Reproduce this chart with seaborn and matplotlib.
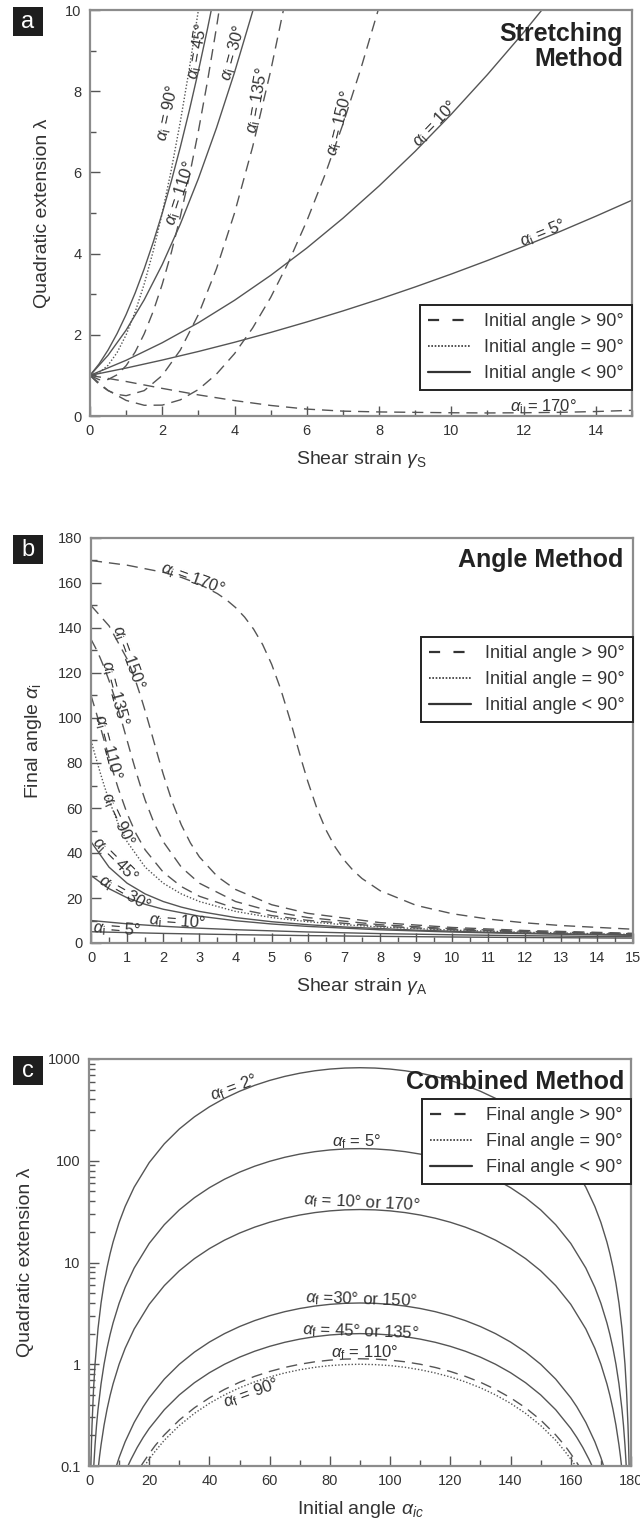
import matplotlib
matplotlib.use('Agg')
import matplotlib.pyplot as plt
import seaborn as sns
from matplotlib.lines import Line2D
from matplotlib.patches import Rectangle
from matplotlib.ticker import MultipleLocator, LogLocator, NullFormatter, FixedLocator, FixedFormatter

# ---------------- panel a : stretching method (lambda vs gamma_S) ----------------
a_g5 = [0, 1, 2, 3, 4, 5, 6, 7, 8, 9, 10, 11, 12, 13, 14, 15]
a_l5 = [1, 1.181, 1.378, 1.589, 1.816, 2.058, 2.316, 2.588, 2.875, 3.179,
        3.497, 3.830, 4.178, 4.541, 4.921, 5.315]
a_g10 = [0, 1, 2, 3, 4, 5, 6, 7, 8, 9, 10, 11, 12, 13]
a_l10 = [1, 1.372, 1.805, 2.297, 2.850, 3.464, 4.137, 4.871, 5.666, 6.520,
         7.435, 8.410, 9.446, 10.541]
a_g30 = [0, 0.5, 1, 1.5, 2, 2.5, 3, 3.5, 4, 4.5, 5]
a_l30 = [1, 1.496, 2.116, 2.862, 3.732, 4.728, 5.848, 7.094, 8.464, 9.960, 11.58]
a_g45 = [0, 0.25, 0.5, 0.75, 1, 1.25, 1.5, 1.75, 2, 2.25, 2.5, 2.75, 3, 3.25, 3.5]
a_l45 = [1, 1.281, 1.625, 2.031, 2.5, 3.031, 3.625, 4.281, 5, 5.781, 6.625,
         7.531, 8.5, 9.531, 10.625]
a_g90 = [0, 0.25, 0.5, 0.75, 1, 1.25, 1.5, 1.75, 2, 2.25, 2.5, 2.75, 3, 3.2]
a_l90 = [1, 1.063, 1.25, 1.563, 2, 2.563, 3.25, 4.063, 5, 6.063, 7.25, 8.563, 10, 11.24]
a_g110 = [0, 0.25, 0.5, 0.75, 1, 1.25, 1.5, 1.75, 2, 2.25, 2.5, 2.75, 3, 3.25, 3.5, 3.75]
a_l110 = [1, 0.895, 0.899, 1.015, 1.240, 1.576, 2.023, 2.579, 3.246, 4.024,
          4.912, 5.910, 7.019, 8.238, 9.567, 11.006]
a_g135 = [0, 0.25, 0.5, 0.75, 1, 1.5, 2, 2.5, 3, 3.5, 4, 4.5, 5, 5.5]
a_l135 = [1, 0.781, 0.625, 0.531, 0.5, 0.625, 1, 1.625, 2.5, 3.625, 5, 6.625, 8.5, 10.625]
a_g150 = [0, 0.5, 1, 1.5, 2, 2.5, 3, 3.5, 4, 4.5, 5, 5.5, 6, 6.5, 7, 7.5, 8]
a_l150 = [1, 0.630, 0.384, 0.264, 0.268, 0.398, 0.652, 1.032, 1.536, 2.166,
          2.92, 3.80, 4.804, 5.934, 7.188, 8.568, 10.072]
a_g170 = [0, 1, 2, 3, 4, 5, 6, 7, 8, 9, 10, 11, 12, 13, 14, 15]
a_l170 = [1.0, 0.85, 0.68, 0.52, 0.38, 0.26, 0.17, 0.12, 0.10, 0.09, 0.08,
          0.075, 0.08, 0.09, 0.11, 0.14]

# ---------------- panel b : angle method (final angle vs gamma_A) ----------------
b_g5 = [0, 2, 4, 6, 8, 10, 12, 15]
b_f5 = [5, 4.26, 3.71, 3.28, 2.95, 2.67, 2.44, 2.17]
b_g10 = [0, 1, 2, 3, 4, 6, 8, 10, 12, 15]
b_f10 = [10, 8.53, 7.43, 6.58, 5.90, 4.90, 4.18, 3.65, 3.24, 2.77]
b_g30 = [0, 0.5, 1, 1.5, 2, 3, 4, 5, 6, 8, 10, 12, 15]
b_f30 = [30, 24.13, 20.10, 17.19, 15.0, 11.93, 9.90, 8.45, 7.37, 5.87, 4.87, 4.17, 3.42]
b_g45 = [0, 0.5, 1, 1.5, 2, 2.5, 3, 4, 5, 6, 7, 9, 11, 13, 15]
b_f45 = [45, 33.69, 26.57, 21.80, 18.43, 15.95, 14.04, 11.31, 9.46, 8.13, 7.13,
         5.71, 4.76, 4.09, 3.58]
b_g90 = [0, 0.125, 0.25, 0.375, 0.5, 0.75, 1, 1.5, 2, 2.5, 3, 4, 5, 6, 7, 8, 10, 12, 15]
b_f90 = [90, 82.87, 75.96, 69.44, 63.43, 53.13, 45, 33.69, 26.57, 21.80, 18.43,
         14.04, 11.31, 9.46, 8.13, 7.13, 5.71, 4.76, 3.81]
b_g110 = [0, 0.125, 0.25, 0.375, 0.5, 0.625, 0.75, 1, 1.25, 1.5, 2, 2.5, 3, 4, 5,
          6, 8, 10, 12, 15]
b_f110 = [110, 103.44, 96.5, 89.4, 82.25, 75.37, 68.9, 57.54, 48.46, 41.36,
          31.44, 25.08, 20.77, 15.38, 12.17, 10.06, 7.46, 5.92, 4.91, 3.91]
b_g135 = [0, 0.125, 0.25, 0.375, 0.5, 0.625, 0.75, 0.875, 1, 1.125, 1.25, 1.375,
          1.5, 1.75, 2, 2.5, 3, 4, 5, 6, 8, 10, 12, 15]
b_f135 = [135, 131.19, 126.87, 122.01, 116.57, 110.56, 104.04, 97.13, 90, 82.87,
          75.96, 69.44, 63.43, 53.13, 45, 33.69, 26.57, 18.43, 14.04, 11.31,
          8.13, 6.34, 5.19, 4.09]
b_g150 = [0, 0.5, 1, 1.125, 1.25, 1.375, 1.5, 1.625, 1.75, 1.875, 2, 2.25, 2.5,
          2.75, 3, 3.5, 4, 5, 6, 8, 10, 12, 15]
b_f150 = [150, 140.94, 126.2, 121.26, 115.73, 109.65, 103.06, 96.11, 88.97,
          81.86, 75.0, 62.61, 52.48, 44.49, 38.26, 29.49, 23.79, 17.01, 13.19,
          9.06, 6.90, 5.56, 4.31]
b_g170 = [0, 1, 2, 2.5, 3, 3.5, 3.75, 4, 4.25, 4.5, 4.75, 5, 5.25, 5.5, 5.67,
          5.85, 6, 6.25, 6.5, 6.75, 7, 7.25, 7.5, 8, 9, 10, 11, 12, 13, 15]
b_f170 = [170, 167.92, 164.76, 162.5, 159.47, 155.27, 152.5, 149.11, 144.87,
          139.5, 132.65, 123.86, 112.83, 99.7, 90, 79.85, 71.79, 59.93, 50.34,
          42.83, 36.96, 32.34, 28.67, 23.24, 16.72, 13.01, 10.63, 8.98, 7.77, 6.12]

# ---------------- panel c : combined method (lambda vs initial angle) ----------------
c_x2 = [0.63, 0.8, 1, 1.5, 2, 3, 4, 5, 6, 7, 8, 10, 12, 15, 20, 25, 30, 35, 40,
        45, 50, 55, 60, 65, 70, 75, 80, 85, 90,
        95, 100, 105, 110, 115, 120, 125, 130, 135, 140, 145, 150, 155, 160,
        165, 168, 170, 172, 173, 174, 175, 176, 177, 178, 178.5, 179, 179.2, 179.37]
c_l2 = [0.1, 0.160, 0.250, 0.563, 1.0, 2.249, 3.995, 6.236, 8.970, 12.19, 15.90,
        24.76, 35.49, 55.0, 96.0, 146.6, 205.3, 270.1, 339.2, 410.5, 481.8,
        550.9, 615.8, 674.4, 725.0, 766.0, 796.3, 814.8, 821.0,
        814.8, 796.3, 766.0, 725.0, 674.4, 615.8, 550.9, 481.8, 410.5, 339.2,
        270.1, 205.3, 146.6, 96.0, 55.0, 35.49, 24.76, 15.90, 12.19, 8.970,
        6.236, 3.995, 2.249, 1.0, 0.563, 0.250, 0.160, 0.1]
c_x5 = [1.58, 2, 2.5, 3, 4, 5, 6, 7, 8, 10, 12, 15, 20, 25, 30, 35, 40, 45, 50,
        55, 60, 65, 70, 75, 80, 85, 90,
        95, 100, 105, 110, 115, 120, 125, 130, 135, 140, 145, 150, 155, 160,
        165, 168, 170, 172, 173, 174, 175, 176, 177, 177.5, 178, 178.42]
c_l5 = [0.1, 0.160, 0.251, 0.361, 0.641, 1.0, 1.438, 1.955, 2.550, 3.970, 5.691,
        8.819, 15.40, 23.51, 32.91, 43.31, 54.39, 65.83, 77.25, 88.34, 98.74,
        108.14, 116.25, 122.83, 127.68, 130.65, 131.65,
        130.65, 127.68, 122.83, 116.25, 108.14, 98.74, 88.34, 77.25, 65.83,
        54.39, 43.31, 32.91, 23.51, 15.40, 8.819, 5.691, 3.970, 2.550, 1.955,
        1.438, 1.0, 0.641, 0.361, 0.251, 0.160, 0.1]
c_x10 = [3.15, 3.5, 4, 5, 6, 7, 8, 10, 12, 15, 20, 25, 30, 35, 40, 45, 50, 55,
         60, 65, 70, 75, 80, 85, 90,
         95, 100, 105, 110, 115, 120, 125, 130, 135, 140, 145, 150, 155, 160,
         165, 168, 170, 172, 173, 174, 175, 176, 176.5, 176.85]
c_l10 = [0.1, 0.124, 0.161, 0.252, 0.362, 0.4925, 0.642, 1.0, 1.434, 2.222,
         3.879, 5.923, 8.291, 10.91, 13.70, 16.58, 19.46, 22.25, 24.87, 27.24,
         29.28, 30.94, 32.16, 32.91, 33.16,
         32.91, 32.16, 30.94, 29.28, 27.24, 24.87, 22.25, 19.46, 16.58, 13.70,
         10.91, 8.291, 5.923, 3.879, 2.222, 1.434, 1.0, 0.642, 0.4925, 0.362,
         0.252, 0.161, 0.124, 0.1]
c_x30 = [9.1, 9.5, 10, 12, 15, 18, 20, 25, 30, 35, 40, 45, 50, 55, 60, 65, 70,
         75, 80, 85, 90,
         95, 100, 105, 110, 115, 120, 125, 130, 135, 140, 145, 150, 155, 160,
         162, 165, 168, 170, 170.5, 170.9]
c_l30 = [0.1, 0.109, 0.121, 0.173, 0.268, 0.382, 0.468, 0.714, 1.0, 1.316,
         1.653, 2.0, 2.347, 2.684, 3.0, 3.286, 3.532, 3.732, 3.879, 3.970, 4.0,
         3.970, 3.879, 3.732, 3.532, 3.286, 3.0, 2.684, 2.347, 2.0, 1.653,
         1.316, 1.0, 0.714, 0.468, 0.382, 0.268, 0.173, 0.121, 0.109, 0.1]
c_x45 = [12.92, 13.5, 14, 16, 18, 20, 25, 30, 35, 40, 45, 50, 55, 60, 65, 70,
         75, 80, 85, 90,
         95, 100, 105, 110, 115, 120, 125, 130, 135, 140, 145, 150, 155, 160,
         162, 164, 166, 166.5, 167.08]
c_l45 = [0.1, 0.109, 0.117, 0.152, 0.191, 0.234, 0.357, 0.5, 0.658, 0.826, 1.0,
         1.174, 1.342, 1.5, 1.643, 1.766, 1.866, 1.940, 1.985, 2.0,
         1.985, 1.940, 1.866, 1.766, 1.643, 1.5, 1.342, 1.174, 1.0, 0.826,
         0.658, 0.5, 0.357, 0.234, 0.191, 0.152, 0.117, 0.109, 0.1]
c_x110 = [17.29, 17.6, 18, 20, 22, 25, 30, 35, 40, 45, 50, 55, 60, 65, 70, 75,
          80, 85, 90,
          95, 100, 105, 110, 115, 120, 125, 130, 135, 140, 145, 150, 155, 158,
          160, 162, 162.4, 162.71]
c_l110 = [0.1, 0.1035, 0.108, 0.132, 0.159, 0.202, 0.283, 0.373, 0.468, 0.566,
          0.665, 0.760, 0.849, 0.930, 1.0, 1.057, 1.098, 1.124, 1.132,
          1.124, 1.098, 1.057, 1.0, 0.930, 0.849, 0.760, 0.665, 0.566, 0.468,
          0.373, 0.283, 0.202, 0.159, 0.132, 0.108, 0.1035, 0.1]
c_x90 = [18.44, 18.8, 20, 22, 25, 30, 35, 40, 45, 50, 55, 60, 65, 70, 75, 80,
         85, 90,
         95, 100, 105, 110, 115, 120, 125, 130, 135, 140, 145, 150, 155, 158,
         160, 161.2, 161.56]
c_l90 = [0.1, 0.104, 0.117, 0.140, 0.179, 0.25, 0.329, 0.413, 0.5, 0.587,
         0.671, 0.75, 0.821, 0.883, 0.933, 0.970, 0.992, 1.0,
         0.992, 0.970, 0.933, 0.883, 0.821, 0.75, 0.671, 0.587, 0.5, 0.413,
         0.329, 0.25, 0.179, 0.140, 0.117, 0.104, 0.1]

LINE = '#555555'
TXT = '#333333'
DASH = (0, (8, 5))
DOT = (0, (1, 1.4))

sns.set_theme(style='ticks')
plt.rcParams['font.family'] = ['Liberation Sans', 'DejaVu Sans']
plt.rcParams['mathtext.fontset'] = 'custom'
plt.rcParams['mathtext.rm'] = 'Liberation Sans'
plt.rcParams['mathtext.it'] = 'Liberation Sans:italic'
plt.rcParams['mathtext.bf'] = 'Liberation Sans:bold'

fig = plt.figure(figsize=(6.4, 15.24), dpi=100)
W, H = 640.0, 1524.0


def axes_px(left, top, right, bottom):
    return fig.add_axes([left / W, 1 - bottom / H, (right - left) / W, (bottom - top) / H])


ax_a = axes_px(90, 10, 632, 416)
ax_b = axes_px(91, 538, 633, 943)
ax_c = axes_px(89, 1059, 631, 1466)


def curve(ax, x, y, ls):
    sns.lineplot(x=x, y=y, ax=ax, color=LINE, lw=1.0, linestyle=ls,
                 estimator=None, sort=False, errorbar=None)


def style_axes(ax):
    for s in ax.spines.values():
        s.set_color('#8c8c8c')
        s.set_linewidth(1.6)
    ax.tick_params(which='both', direction='in', color='#555555', width=1,
                   labelcolor=TXT, labelsize=10.5, pad=6)
    ax.tick_params(which='major', length=7)
    ax.tick_params(which='minor', length=4)


def lab(ax, x, y, s, rot, size=12):
    ax.text(x, y, s, rotation=rot, ha='center', va='center', fontsize=size,
            color=TXT, rotation_mode='anchor')


def legend(ax, word, loc, anchor):
    handles = [Line2D([], [], color='#333333', lw=1.6, linestyle=(0, (5, 6))),
               Line2D([], [], color='#333333', lw=1.2, linestyle=(0, (1, 1))),
               Line2D([], [], color='#333333', lw=1.6)]
    labels = [word + ' angle > 90°', word + ' angle = 90°', word + ' angle < 90°']
    lg = ax.legend(handles, labels, loc=loc, bbox_to_anchor=anchor, borderaxespad=0,
                   fontsize=13, frameon=True, fancybox=False, framealpha=1,
                   handlelength=2.3, labelspacing=0.5, borderpad=0.45,
                   handletextpad=0.8)
    lg.get_frame().set_edgecolor('#222222')
    lg.get_frame().set_linewidth(1.4)
    for t in lg.get_texts():
        t.set_color(TXT)


ai = r'$\alpha_\mathrm{i}$'
af = r'$\alpha_\mathrm{f}$'

# ---- panel a ----
for x, y in [(a_g5, a_l5), (a_g10, a_l10), (a_g30, a_l30), (a_g45, a_l45)]:
    curve(ax_a, x, y, '-')
curve(ax_a, a_g90, a_l90, DOT)
for x, y in [(a_g110, a_l110), (a_g135, a_l135), (a_g150, a_l150), (a_g170, a_l170)]:
    curve(ax_a, x, y, DASH)
ax_a.set_xlim(0, 15)
ax_a.set_ylim(0, 10)
ax_a.xaxis.set_major_locator(MultipleLocator(2))
ax_a.xaxis.set_minor_locator(MultipleLocator(1))
ax_a.yaxis.set_major_locator(MultipleLocator(2))
ax_a.yaxis.set_minor_locator(MultipleLocator(1))
ax_a.set_xlabel(r'Shear strain $\gamma_\mathrm{S}$', fontsize=14, color=TXT, labelpad=8)
ax_a.set_ylabel('Quadratic extension λ', fontsize=14, color=TXT, labelpad=10)
style_axes(ax_a)
lab(ax_a, 2.16, 7.46, ai + ' = 90°', 78)
lab(ax_a, 2.99, 9.0, ai + ' = 45°', 80)
lab(ax_a, 3.96, 8.94, ai + ' = 30°', 75)
lab(ax_a, 4.65, 7.78, ai + ' = 135°', 80)
lab(ax_a, 2.49, 5.49, ai + ' = 110°', 72)
lab(ax_a, 6.92, 7.2, ai + ' = 150°', 76)
lab(ax_a, 9.55, 7.2, ai + ' = 10°', 46)
lab(ax_a, 12.54, 4.5, ai + ' = 5°', 22)
lab(ax_a, 12.54, 0.22, ai + ' = 170°', 0)
ax_a.text(14.75, 9.7, 'Stretching\nMethod', ha='right', va='top', fontsize=18,
          fontweight='bold', color='#222222', linespacing=1.05)
legend(ax_a, 'Initial', 'lower right', (1.0, 0.064))

# ---- panel b ----
for x, y in [(b_g5, b_f5), (b_g10, b_f10), (b_g30, b_f30), (b_g45, b_f45)]:
    curve(ax_b, x, y, '-')
curve(ax_b, b_g90, b_f90, DOT)
for x, y in [(b_g110, b_f110), (b_g135, b_f135), (b_g150, b_f150), (b_g170, b_f170)]:
    curve(ax_b, x, y, DASH)
ax_b.set_xlim(0, 15)
ax_b.set_ylim(0, 180)
ax_b.xaxis.set_major_locator(MultipleLocator(1))
ax_b.xaxis.set_minor_locator(MultipleLocator(0.5))
ax_b.yaxis.set_major_locator(MultipleLocator(20))
ax_b.yaxis.set_minor_locator(MultipleLocator(10))
ax_b.set_xlabel(r'Shear strain $\gamma_\mathrm{A}$', fontsize=14, color=TXT, labelpad=8)
ax_b.set_ylabel(r'Final angle $\alpha_\mathrm{i}$', fontsize=14, color=TXT, labelpad=10)
style_axes(ax_b)
lab(ax_b, 2.8, 162, ai + ' = 170°', -20)
lab(ax_b, 1.03, 127, ai + ' = 150°', -70)
lab(ax_b, 0.66, 111, ai + ' = 135°', -75)
lab(ax_b, 0.47, 87, ai + ' = 110°', -75)
lab(ax_b, 0.75, 55, ai + ' = 90°', -65)
lab(ax_b, 0.66, 37, ai + ' = 45°', -45)
lab(ax_b, 0.94, 22, ai + ' = 30°', -30)
lab(ax_b, 2.38, 9.5, ai + ' = 10°', -4)
lab(ax_b, 0.72, 6, ai + ' = 5°', -4)
ax_b.text(14.73, 170, 'Angle Method', ha='right', va='center', fontsize=18,
          fontweight='bold', color='#222222')
legend(ax_b, 'Initial', 'upper right', (1.0, 0.756))

# ---- panel c ----
ax_c.set_yscale('log')
for x, y in [(c_x2, c_l2), (c_x5, c_l5), (c_x10, c_l10), (c_x30, c_l30), (c_x45, c_l45)]:
    curve(ax_c, x, y, '-')
curve(ax_c, c_x110, c_l110, DASH)
curve(ax_c, c_x90, c_l90, DOT)
ax_c.set_xlim(0, 180)
ax_c.set_ylim(0.1, 1000)
ax_c.xaxis.set_major_locator(MultipleLocator(20))
ax_c.xaxis.set_minor_locator(MultipleLocator(10))
ax_c.yaxis.set_major_locator(FixedLocator([0.1, 1, 10, 100, 1000]))
ax_c.yaxis.set_major_formatter(FixedFormatter(['0.1', '1', '10', '100', '1000']))
ax_c.yaxis.set_minor_locator(LogLocator(base=10, subs=range(2, 10)))
ax_c.yaxis.set_minor_formatter(NullFormatter())
ax_c.set_xlabel(r'Initial angle $\alpha_{ic}$', fontsize=14, color=TXT, labelpad=8)
ax_c.set_ylabel('Quadratic extension λ', fontsize=14, color=TXT, labelpad=10)
style_axes(ax_c)
lab(ax_c, 48, 518, af + ' = 2°', 20)
lab(ax_c, 89, 153, af + ' = 5°', 0)
lab(ax_c, 90.5, 38.5, af + ' = 10° or 170°', -3)
lab(ax_c, 90.3, 4.27, af + ' =30° or 150°', -2)
lab(ax_c, 90.3, 2.08, af + ' = 45° or 135°', -2)
lab(ax_c, 91.7, 1.29, af + ' = 110°', 0)
lab(ax_c, 54, 0.52, af + ' = 90°', 20)
ax_c.text(177.7, 600, 'Combined Method', ha='right', va='center', fontsize=18,
          fontweight='bold', color='#222222')
legend(ax_c, 'Final', 'upper right', (1.0, 0.902))

# panel letters
for letter, top in [('a', 7), ('b', 535), ('c', 1056)]:
    fig.add_artist(Rectangle((13 / W, 1 - (top + 29) / H), 30 / W, 29 / H,
                             transform=fig.transFigure, facecolor='#1e1e1e',
                             edgecolor='none'))
    fig.text(28 / W, 1 - (top + 15) / H, letter, ha='center', va='center',
             color='white', fontsize=17)

fig.savefig('out.png', dpi=100)
